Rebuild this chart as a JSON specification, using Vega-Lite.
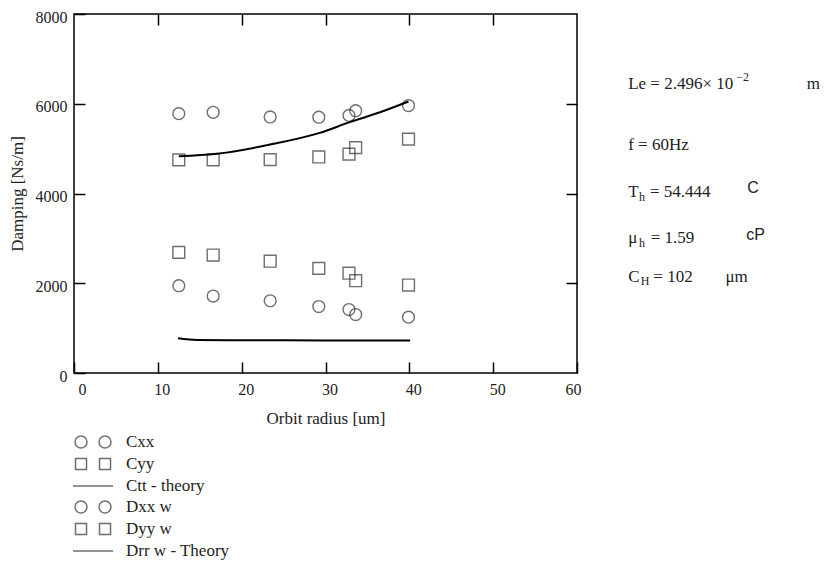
{
  "$schema": "https://vega.github.io/schema/vega-lite/v6.json",
  "width": 503,
  "height": 359,
  "autosize": {"type": "none"},
  "padding": {"left": 74, "top": 14, "right": 251, "bottom": 190},
  "background": "white",
  "config": {
    "view": {"stroke": "black", "strokeWidth": 1.5},
    "font": "Liberation Serif",
    "axis": {
      "grid": false,
      "domain": false,
      "tickColor": "black",
      "tickWidth": 1.5,
      "tickSize": -11,
      "labelFont": "Liberation Serif",
      "labelFontSize": 16,
      "labelColor": "#222",
      "titleFont": "Liberation Serif",
      "titleFontSize": 17,
      "titleFontWeight": "normal",
      "titleColor": "#222"
    }
  },
  "datasets": {
    "points": [
      {"series": "Cxx", "marker": "circle", "x": 12.5, "y": 5780},
      {"series": "Cxx", "marker": "circle", "x": 16.6, "y": 5810},
      {"series": "Cxx", "marker": "circle", "x": 23.4, "y": 5705},
      {"series": "Cxx", "marker": "circle", "x": 29.2, "y": 5700},
      {"series": "Cxx", "marker": "circle", "x": 32.8, "y": 5740},
      {"series": "Cxx", "marker": "circle", "x": 33.6, "y": 5845},
      {"series": "Cxx", "marker": "circle", "x": 39.9, "y": 5960},
      {"series": "Cyy", "marker": "square", "x": 12.5, "y": 4750},
      {"series": "Cyy", "marker": "square", "x": 16.6, "y": 4750},
      {"series": "Cyy", "marker": "square", "x": 23.4, "y": 4755},
      {"series": "Cyy", "marker": "square", "x": 29.2, "y": 4815},
      {"series": "Cyy", "marker": "square", "x": 32.8, "y": 4878},
      {"series": "Cyy", "marker": "square", "x": 33.6, "y": 5022},
      {"series": "Cyy", "marker": "square", "x": 39.9, "y": 5212},
      {"series": "Dyy w", "marker": "square", "x": 12.5, "y": 2688},
      {"series": "Dyy w", "marker": "square", "x": 16.6, "y": 2628},
      {"series": "Dyy w", "marker": "square", "x": 23.4, "y": 2491},
      {"series": "Dyy w", "marker": "square", "x": 29.2, "y": 2331},
      {"series": "Dyy w", "marker": "square", "x": 32.8, "y": 2224},
      {"series": "Dyy w", "marker": "square", "x": 33.6, "y": 2056},
      {"series": "Dyy w", "marker": "square", "x": 39.9, "y": 1960},
      {"series": "Dxx w", "marker": "circle", "x": 12.5, "y": 1945},
      {"series": "Dxx w", "marker": "circle", "x": 16.6, "y": 1715},
      {"series": "Dxx w", "marker": "circle", "x": 23.4, "y": 1610},
      {"series": "Dxx w", "marker": "circle", "x": 29.2, "y": 1481},
      {"series": "Dxx w", "marker": "circle", "x": 32.8, "y": 1414},
      {"series": "Dxx w", "marker": "circle", "x": 33.6, "y": 1303},
      {"series": "Dxx w", "marker": "circle", "x": 39.9, "y": 1244}
    ],
    "theory": [
      {"series": "Ctt - theory", "x": 12.5, "y": 4830},
      {"series": "Ctt - theory", "x": 17.0, "y": 4885},
      {"series": "Ctt - theory", "x": 23.4, "y": 5090},
      {"series": "Ctt - theory", "x": 29.3, "y": 5350},
      {"series": "Ctt - theory", "x": 32.9, "y": 5590},
      {"series": "Ctt - theory", "x": 36.5, "y": 5810},
      {"series": "Ctt - theory", "x": 39.9, "y": 6050},
      {"series": "Drr w - Theory", "x": 12.4, "y": 773},
      {"series": "Drr w - Theory", "x": 14.7, "y": 735},
      {"series": "Drr w - Theory", "x": 20.0, "y": 728},
      {"series": "Drr w - Theory", "x": 30.0, "y": 727},
      {"series": "Drr w - Theory", "x": 40.1, "y": 727}
    ],
    "legend": [
      {"series": "Cxx"},
      {"series": "Cyy"},
      {"series": "Ctt - theory"},
      {"series": "Dxx w"},
      {"series": "Dyy w"},
      {"series": "Drr w - Theory"}
    ],
    "annMain": [
      {"tx": 66.1, "ty": 6440, "t": "Le = 2.496× 10"},
      {"tx": 87.4, "ty": 6440, "t": "m"},
      {"tx": 66.1, "ty": 5081, "t": "f = 60Hz"},
      {"tx": 66.1, "ty": 4034, "t": "T"},
      {"tx": 68.7, "ty": 4034, "t": "= 54.444"},
      {"tx": 66.1, "ty": 3008, "t": "μ"},
      {"tx": 68.8, "ty": 3008, "t": "= 1.59"},
      {"tx": 66.1, "ty": 2139, "t": "C"},
      {"tx": 69.1, "ty": 2139, "t": "= 102"},
      {"tx": 77.7, "ty": 2139, "t": "μm"}
    ],
    "annSmall": [
      {"tx": 79.0, "ty": 6600, "t": "−2"},
      {"tx": 67.4, "ty": 3922, "t": "h"},
      {"tx": 67.4, "ty": 2897, "t": "h"},
      {"tx": 67.6, "ty": 2050, "t": "H"}
    ],
    "annSans": [
      {"tx": 80.3, "ty": 4123, "t": "C"},
      {"tx": 80.2, "ty": 3075, "t": "cP"}
    ]
  },
  "layer": [
    {
      "data": {"name": "points"},
      "mark": {"type": "point", "filled": false, "color": "#333", "strokeWidth": 1.4, "size": 140},
      "encoding": {
        "x": {
          "field": "x", "type": "quantitative",
          "scale": {"domain": [0, 60]},
          "axis": {"values": [0, 10, 20, 30, 40, 50, 60], "format": "d", "title": "Orbit radius [um]", "labelFont": "Liberation Serif", "labelFontSize": 16, "labelOffset": 4, "labelPadding": 19, "titlePadding": 13}
        },
        "y": {
          "field": "y", "type": "quantitative",
          "scale": {"domain": [0, 8000]},
          "axis": {"values": [0, 2000, 4000, 6000, 8000], "format": "d", "title": "Damping [Ns/m]", "labelFont": "Liberation Serif", "labelFontSize": 16, "labelOffset": 3, "labelPadding": 18, "titlePadding": 9}
        },
        "shape": {"field": "marker", "type": "nominal", "scale": null}
      }
    },
    {
      "data": {"name": "theory"},
      "mark": {"type": "line", "color": "black", "strokeWidth": 2, "interpolate": "monotone"},
      "encoding": {
        "x": {"field": "x", "type": "quantitative", "axis": {"orient": "top", "values": [10, 20, 30, 40, 50], "labels": false, "title": null}},
        "y": {"field": "y", "type": "quantitative", "axis": {"orient": "right", "values": [2000, 4000, 6000], "labels": false, "title": null}},
        "detail": {"field": "series", "type": "nominal"}
      }
    },
    {
      "data": {"name": "legend"},
      "mark": {"type": "point", "filled": false, "color": "black", "opacity": 0},
      "encoding": {
        "shape": {
          "field": "series", "type": "nominal",
          "scale": {
            "domain": ["Cxx", "Cyy", "Ctt - theory", "Dxx w", "Dyy w", "Drr w - Theory"],
            "range": [
              "M-0.6,0A0.6,0.6,0,1,1,-1.8,0A0.6,0.6,0,1,1,-0.6,0ZM1.8,0A0.6,0.6,0,1,1,0.6,0A0.6,0.6,0,1,1,1.8,0Z",
              "M-1.75,-0.55H-0.65V0.55H-1.75ZM0.65,-0.55H1.75V0.55H0.65Z",
              "M-2,0H2",
              "M-0.6,0A0.6,0.6,0,1,1,-1.8,0A0.6,0.6,0,1,1,-0.6,0ZM1.8,0A0.6,0.6,0,1,1,0.6,0A0.6,0.6,0,1,1,1.8,0Z",
              "M-1.75,-0.55H-0.65V0.55H-1.75ZM0.65,-0.55H1.75V0.55H0.65Z",
              "M-2,0H2"
            ]
          },
          "legend": {
            "title": null,
            "orient": "none",
            "legendX": 8,
            "legendY": 417,
            "symbolSize": 400,
            "symbolStrokeWidth": 1.5,
            "labelFont": "Liberation Serif",
            "labelFontSize": 17,
            "labelColor": "#222",
            "labelOffset": 22,
            "rowPadding": 2,
            "encode": {
              "symbols": {
                "update": {
                  "opacity": {"value": 1},
                  "strokeOpacity": {"value": 1},
                  "fill": {"value": "transparent"},
                  "stroke": {"value": "#222"},
                  "strokeWidth": {"value": 1.5}
                }
              }
            }
          }
        }
      }
    },
    {
      "data": {"name": "annMain"},
      "mark": {"type": "text", "align": "left", "baseline": "middle", "font": "Liberation Serif", "fontSize": 17, "color": "#222"},
      "encoding": {
        "x": {"field": "tx", "type": "quantitative", "axis": null},
        "y": {"field": "ty", "type": "quantitative", "axis": null},
        "text": {"field": "t"}
      }
    },
    {
      "data": {"name": "annSmall"},
      "mark": {"type": "text", "align": "left", "baseline": "middle", "font": "Liberation Serif", "fontSize": 12, "color": "#222"},
      "encoding": {
        "x": {"field": "tx", "type": "quantitative", "axis": null},
        "y": {"field": "ty", "type": "quantitative", "axis": null},
        "text": {"field": "t"}
      }
    },
    {
      "data": {"name": "annSans"},
      "mark": {"type": "text", "align": "left", "baseline": "middle", "font": "Liberation Sans", "fontSize": 16, "color": "#222"},
      "encoding": {
        "x": {"field": "tx", "type": "quantitative", "axis": null},
        "y": {"field": "ty", "type": "quantitative", "axis": null},
        "text": {"field": "t"}
      }
    }
  ],
  "resolve": {"axis": {"x": "independent", "y": "independent"}}
}
